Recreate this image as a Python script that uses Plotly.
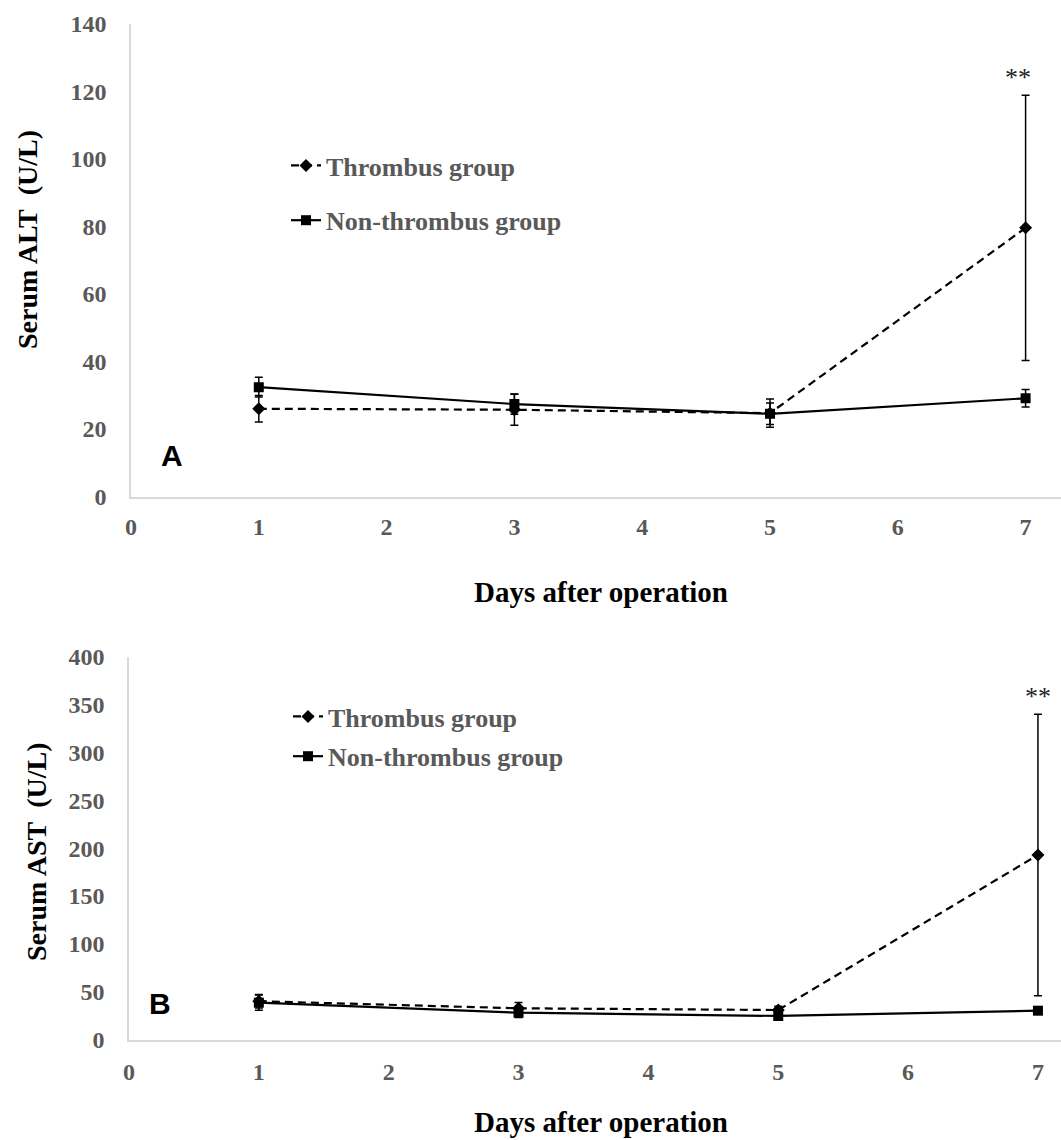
import plotly.graph_objects as go

# ---------------- data ----------------
days = [1, 3, 5, 7]

alt_thrombus = [26.0, 25.7, 24.7, 79.6]
alt_thrombus_err = [3.9, 4.6, 4.2, 39.3]
alt_non = [32.4, 27.4, 24.5, 29.1]
alt_non_err = [2.9, 3.0, 3.2, 2.6]

ast_thrombus = [40.0, 32.6, 30.8, 192.8]
ast_thrombus_err = [7.0, 6.0, 4.0, 147.0]
ast_non = [38.5, 28.0, 24.6, 30.1]
ast_non_err = [8.0, 5.0, 4.0, 2.0]

x_ticks = [0, 1, 2, 3, 4, 5, 6, 7]
alt_ticks = [0, 20, 40, 60, 80, 100, 120, 140]
ast_ticks = [0, 50, 100, 150, 200, 250, 300, 350, 400]

W, H = 1061, 1140
def xp(px):
    return px / W
def yp(py):
    return 1 - py / H

SERIF = "Liberation Serif, Times New Roman, serif"
SANS = "Liberation Sans, Arial, sans-serif"
GRAY = "#595959"

fig = go.Figure()

def add_pair(xa, ya, th, th_err, non, non_err, legend):
    fig.add_trace(go.Scatter(
        x=days, y=th, mode="lines+markers", name="Thrombus group",
        xaxis=xa, yaxis=ya, legend=legend, legendgroup=legend + "a",
        line=dict(color="black", width=2.2, dash="8px,5px"),
        marker=dict(symbol="diamond", size=10, color="black"),
        error_y=dict(type="data", array=th_err, visible=True,
                     color="black", thickness=1.5, width=4),
    ))
    fig.add_trace(go.Scatter(
        x=days, y=non, mode="lines+markers", name="Non-thrombus group",
        xaxis=xa, yaxis=ya, legend=legend, legendgroup=legend + "b",
        line=dict(color="black", width=2.2),
        marker=dict(symbol="square", size=10, color="black"),
        error_y=dict(type="data", array=non_err, visible=True,
                     color="black", thickness=1.5, width=4),
    ))

add_pair("x", "y", alt_thrombus, alt_thrombus_err, alt_non, alt_non_err, "legend")
add_pair("x2", "y2", ast_thrombus, ast_thrombus_err, ast_non, ast_non_err, "legend2")

axis_common = dict(
    showgrid=False, zeroline=False, showline=True, automargin=False,
    linecolor="#d9d9d9", linewidth=1.5,
    ticks="outside", tickcolor="rgba(0,0,0,0)",
    tickfont=dict(family=SERIF, size=24, color=GRAY, weight="bold"),
)

fig.update_layout(
    width=W, height=H,
    margin=dict(l=0, r=0, t=0, b=0, autoexpand=False),
    paper_bgcolor="white", plot_bgcolor="white",
    xaxis=dict(domain=[xp(131), 1.0], range=[0, (W - 131) / 127.8],
               anchor="y", tickvals=x_ticks, ticklen=8, **axis_common),
    yaxis=dict(domain=[yp(496.5), yp(24)], range=[0, 140],
               anchor="x", tickvals=alt_ticks, ticklen=18, **axis_common),
    xaxis2=dict(domain=[xp(129), 1.0], range=[0, (W - 129) / 129.85],
                anchor="y2", tickvals=x_ticks, ticklen=10, **axis_common),
    yaxis2=dict(domain=[yp(1039.5), yp(656.7)], range=[0, 400],
                anchor="x2", tickvals=ast_ticks, ticklen=18, **axis_common),
    legend=dict(x=xp(286), y=yp(142), xanchor="left", yanchor="top",
                font=dict(family=SERIF, size=26, color=GRAY, weight="bold"),
                tracegroupgap=18, bgcolor="rgba(0,0,0,0)"),
    legend2=dict(x=xp(288), y=yp(693), xanchor="left", yanchor="top",
                 font=dict(family=SERIF, size=26, color=GRAY, weight="bold"),
                 tracegroupgap=3, bgcolor="rgba(0,0,0,0)"),
    showlegend=True,
)

def ann(text, x, y, size, color="black", angle=0, family=SERIF, bold=True, **kw):
    return dict(text=text, x=x, y=y, xref=kw.pop("xref", "paper"), yref=kw.pop("yref", "paper"),
                xanchor="center", yanchor="middle", textangle=angle, showarrow=False,
                font=dict(family=family, size=size, color=color,
                          weight="bold" if bold else "normal"), **kw)

anns = [
    ann("Days after operation", xp(601), yp(592), 29),
    ann("Days after operation", xp(601), yp(1122), 29),
    ann("Serum ALT\u00a0 (U/L)", xp(27), yp(240), 28, angle=-90),
    ann("Serum AST\u00a0 (U/L)", xp(36), yp(852), 28, angle=-90),
    ann("A", xp(172), yp(455), 30, family=SANS),
    ann("B", xp(160), yp(1003), 30, family=SANS),
    ann("**", 7, alt_thrombus[3] + alt_thrombus_err[3], 26, color="#222222", bold=False,
        xref="x", yref="y", xshift=-8, yshift=18),
    ann("**", 7, ast_thrombus[3] + ast_thrombus_err[3], 26, color="#222222", bold=False,
        xref="x2", yref="y2", yshift=18),
]
fig.update_layout(annotations=anns)

fig.write_html("out.html", config={"displayModeBar": False},
               post_script="document.body.style.margin='0px';")
